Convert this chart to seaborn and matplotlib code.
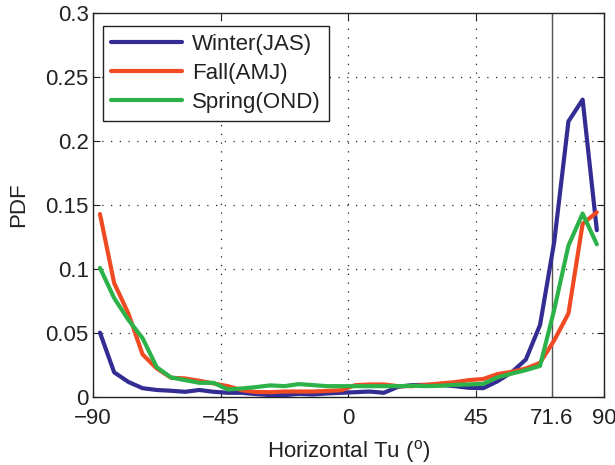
import numpy as np
import pandas as pd
import matplotlib
matplotlib.use("Agg")
import matplotlib.pyplot as plt
import seaborn as sns
from matplotlib.lines import Line2D

# Bin centers (degrees)
tu_bins = [-87.5, -82.5, -77.5, -72.5, -67.5, -62.5, -57.5, -52.5, -47.5, -42.5,
           -37.5, -32.5, -27.5, -22.5, -17.5, -12.5, -7.5, -2.5, 2.5, 7.5,
           12.5, 17.5, 22.5, 27.5, 32.5, 37.5, 42.5, 47.5, 52.5, 57.5,
           62.5, 67.5, 72.5, 77.5, 82.5, 87.5]

winter = [0.050, 0.019, 0.0115, 0.0066, 0.0052, 0.0046, 0.0038, 0.0052, 0.0038, 0.0030,
          0.0030, 0.0020, 0.0012, 0.0012, 0.0022, 0.0017, 0.0025, 0.0030, 0.0035, 0.0040,
          0.0030, 0.0077, 0.0090, 0.0092, 0.0092, 0.0082, 0.0069, 0.0066, 0.0120, 0.0190,
          0.0290, 0.0560, 0.1210, 0.2150, 0.2320, 0.1300]

fall = [0.1426, 0.0887, 0.0650, 0.0330, 0.0220, 0.0148, 0.0142, 0.0124, 0.0103, 0.0082,
        0.0050, 0.0036, 0.0035, 0.0040, 0.0040, 0.0040, 0.0045, 0.0050, 0.0090, 0.0095,
        0.0095, 0.0082, 0.0082, 0.0092, 0.0103, 0.0113, 0.0129, 0.0138, 0.0176, 0.0194,
        0.0220, 0.0264, 0.0440, 0.0650, 0.1350, 0.1440]

spring = [0.1006, 0.0770, 0.0600, 0.0457, 0.0230, 0.0150, 0.0129, 0.0108, 0.0108, 0.0056,
          0.0064, 0.0075, 0.0088, 0.0082, 0.0098, 0.0090, 0.0082, 0.0082, 0.0082, 0.0082,
          0.0082, 0.0082, 0.0085, 0.0082, 0.0085, 0.0092, 0.0095, 0.0100, 0.0150, 0.0180,
          0.0207, 0.0240, 0.0680, 0.1180, 0.1430, 0.1190]

season_labels = ["Winter(JAS)", "Fall(AMJ)", "Spring(OND)"]
season_colors = ["#332c93", "#f04a23", "#2db24a"]
x_ticks = [-90, -45, 0, 45, 71.6, 90]
x_ticklabels = ["\u221290", "\u221245", "0", "45", "71.6", "90"]
y_ticks = [0, 0.05, 0.1, 0.15, 0.2, 0.25, 0.3]
y_ticklabels = ["0", "0.05", "0.1", "0.15", "0.2", "0.25", "0.3"]

df = pd.concat([
    pd.DataFrame({"Tu": tu_bins, "PDF": vals, "Season": lab})
    for vals, lab in zip([winter, fall, spring], season_labels)
], ignore_index=True)

sns.set_style("white")
plt.rcParams["font.family"] = ["Liberation Sans", "DejaVu Sans"]
plt.rcParams["mathtext.fontset"] = "custom"
plt.rcParams["mathtext.rm"] = "Liberation Sans"
plt.rcParams["mathtext.it"] = "Liberation Sans"

FS = 16
fig = plt.figure(figsize=(6.15, 4.65), dpi=100)
ax = fig.add_axes([0.151, 0.147, 0.831, 0.826])

sns.lineplot(data=df, x="Tu", y="PDF", hue="Season",
             palette=dict(zip(season_labels, season_colors)),
             linewidth=3.0, ax=ax, legend=False, zorder=3)

ax.set_xlim(-90, 90)
ax.set_ylim(0, 0.3)
ax.set_xticks(x_ticks)
ax.set_xticklabels(x_ticklabels)
ax.set_yticks(y_ticks)
ax.set_yticklabels(y_ticklabels)

# dotted grid (MATLAB style)
for xv in [-45, 0, 45, 90]:
    ax.axvline(xv, color="#222222", linestyle=(0, (1, 6)), linewidth=0.9, zorder=1)
for yv in y_ticks[1:-1]:
    ax.axhline(yv, color="#222222", linestyle=(0, (1, 6)), linewidth=0.9, zorder=1)
ax.axvline(71.6, color="#555555", linewidth=1.0, zorder=2)

for s in ax.spines.values():
    s.set_color("#222222")
    s.set_linewidth(1.0)

ax.tick_params(direction="in", length=5, width=0.8, colors="#222222",
               labelsize=FS, labelcolor="#222222", top=True, right=True,
               bottom=True, left=True)
ax.tick_params(axis="x", pad=8)
ax.tick_params(axis="y", pad=3)

ax.set_xlabel(r"Horizontal Tu ($^{\mathrm{o}}$)", fontsize=FS, color="#222222", labelpad=7)
ax.set_ylabel("PDF", fontsize=FS, color="#222222", labelpad=12)

handles = [Line2D([], [], color=c, linewidth=3.0) for c in season_colors]
leg = ax.legend(handles, season_labels, loc="upper left",
                bbox_to_anchor=(0.02, 0.965), fontsize=FS,
                handlelength=3.2, handletextpad=0.45, labelspacing=0.37,
                borderpad=0.35, borderaxespad=0.0, frameon=True, fancybox=False,
                framealpha=1)
leg.get_frame().set_edgecolor("#222222")
leg.get_frame().set_linewidth(1.0)
for t in leg.get_texts():
    t.set_color("#222222")

fig.savefig("out.png", dpi=100)
